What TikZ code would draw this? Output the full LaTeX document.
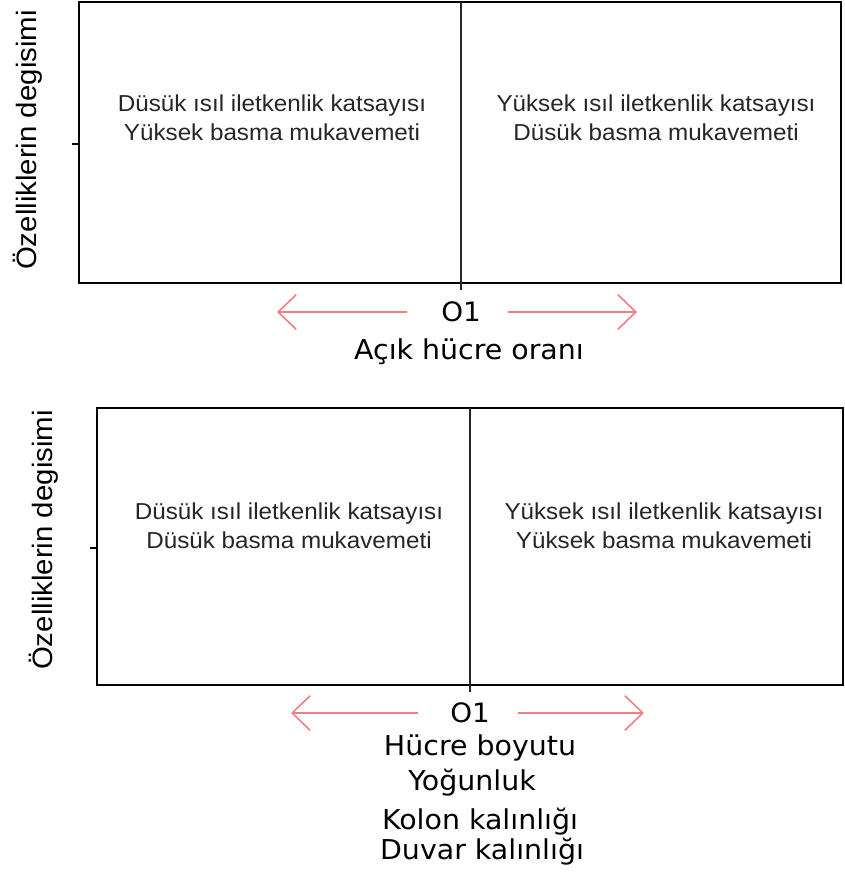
\documentclass[tikz,border=0pt]{standalone}
\usepackage{fontspec}
\usetikzlibrary{arrows.meta}
\newfontfamily\kutufont[FakeStretch=1.05]{Liberation Sans}
\newfontfamily\eksenfont[FakeStretch=1.04]{DejaVu Sans}
\definecolor{okpembe}{RGB}{240,128,128}

\begin{document}
\begin{tikzpicture}[x=0.75pt,y=-0.75pt, line cap=butt,
  kutu/.style={draw=black, line width=2pt},
  bolme/.style={draw=black!85, line width=0.9pt},
  ok/.style={draw=okpembe, line width=1.2pt, -{Straight Barb[length=13.5pt,width=26pt]}},
  metin/.style={font=\kutufont\fontsize{17.3}{21.5}\selectfont, text=black!85, align=center, inner sep=0pt},
  eksen/.style={font=\eksenfont\fontsize{20.5}{22}\selectfont, inner sep=0pt},
  oetiket/.style={font=\eksenfont\fontsize{20}{22}\selectfont, inner sep=0pt},
  yeksen/.style={font=\kutufont\fontsize{21}{22}\selectfont, rotate=90, inner sep=0pt}]
\useasboundingbox (0,0) rectangle (844,878);

% ===== üst grafik: açık hücre oranı =====
\draw[kutu] (79,2) rectangle (841,283);
\draw[bolme] (461,2) -- (461,290);
\draw[kutu] (72,144) -- (79,144);

\node[yeksen] (ust-y) at (28,140) {Özelliklerin degisimi};
\node[metin] (ust-sol) at (272,118) {Düsük ısıl iletkenlik katsayısı\\Yüksek basma mukavemeti};
\node[metin] (ust-sag) at (656,118) {Yüksek ısıl iletkenlik katsayısı\\Düsük basma mukavemeti};

\node[oetiket] (ust-o) at (461,312) {O1};
\coordinate (ust-ok1) at (407,312);
\coordinate (ust-ok1u) at (277,312);
\coordinate (ust-ok2) at (508,312);
\coordinate (ust-ok2u) at (637,312);
\draw[ok] (ust-ok1) -- (ust-ok1u);
\draw[ok] (ust-ok2) -- (ust-ok2u);
\node[eksen] (ust-x) at (469,352) {Açık hücre oranı};

% ===== alt grafik: hücre boyutu, yoğunluk, kalınlıklar =====
\draw[kutu] (97,408) rectangle (843,685);
\draw[bolme] (470,408) -- (470,692);
\draw[kutu] (90,548) -- (97,548);

\node[yeksen] (alt-y) at (44,540) {Özelliklerin degisimi};
\node[metin] (alt-sol) at (289,526) {Düsük ısıl iletkenlik katsayısı\\Düsük basma mukavemeti};
\node[metin] (alt-sag) at (664,526) {Yüksek ısıl iletkenlik katsayısı\\Yüksek basma mukavemeti};

\node[oetiket] (alt-o) at (470,713) {O1};
\coordinate (alt-ok1) at (418,713);
\coordinate (alt-ok1u) at (291,713);
\coordinate (alt-ok2) at (518,713);
\coordinate (alt-ok2u) at (644,713);
\draw[ok] (alt-ok1) -- (alt-ok1u);
\draw[ok] (alt-ok2) -- (alt-ok2u);

\foreach \i/\x/\y/\t in {1/480/748/Hücre boyutu, 2/472/783/Yoğunluk, 3/480/822/Kolon kalınlığı, 4/482/852/Duvar kalınlığı}{
  \node[eksen] (alt-x\i) at (\x,\y) {\t};
}
\end{tikzpicture}
\end{document}
